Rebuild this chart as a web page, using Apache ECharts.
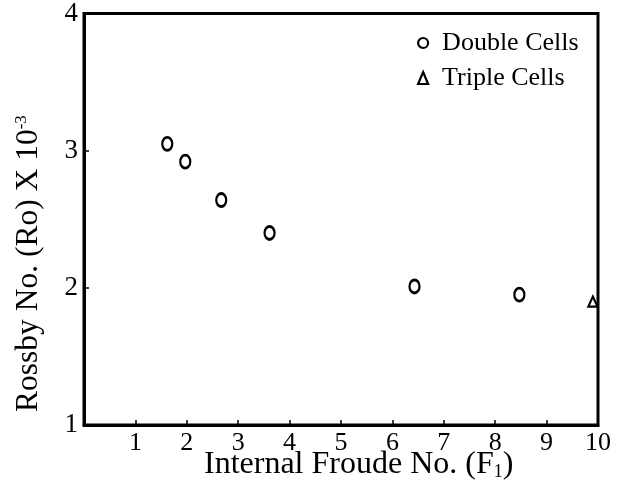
<!DOCTYPE html>
<html>
<head>
<meta charset="utf-8">
<script src="https://cdn.jsdelivr.net/npm/echarts@6/dist/echarts.min.js"></script>
<style>html,body{margin:0;padding:0;background:#fff}#c{width:621px;height:504px}</style>
</head>
<body>
<div id="c"></div>
<script>
const doubleX = [1.62, 1.97, 2.67, 3.61, 6.43, 8.47];
const doubleY = [3.05, 2.92, 2.64, 2.40, 2.01, 1.95];
const tripleX = [9.9];
const tripleY = [1.90];
const xTicks = [1, 2, 3, 4, 5, 6, 7, 8, 9, 10];
const yTicks = [1, 2, 3, 4];
const seriesNames = ['Double Cells', 'Triple Cells'];
const xTitle = 'Internal Froude No. (F{sub|1})';
const yTitle = 'Rossby No. (Ro) X 10{sup|-3}';

const FONT = '"Liberation Serif", "DejaVu Serif", serif';
const chart = echarts.init(document.getElementById('c'), null, {renderer: 'canvas'});
const pair = (xs, ys) => xs.map((x, i) => [x, ys[i]]);

chart.setOption({
  backgroundColor: '#fff',
  animation: false,
  grid: {left: 84, right: 23, top: 13, bottom: 79, show: true, borderColor: '#000', borderWidth: 3},
  xAxis: {
    type: 'value', min: 0, max: 10, interval: 1,
    splitLine: {show: false},
    axisLine: {show: true, lineStyle: {color: '#000', width: 3}},
    axisTick: {show: true, inside: true, length: 5, lineStyle: {color: '#000', width: 1.5}},
    axisLabel: {
      color: '#000', fontFamily: FONT, fontSize: 26, margin: 5,
      formatter: v => xTicks.includes(v) ? String(v) : ''
    }
  },
  yAxis: {
    type: 'value', min: 1, max: 4, interval: 1,
    splitLine: {show: false},
    axisLine: {show: true, lineStyle: {color: '#000', width: 3}},
    axisTick: {show: true, inside: true, length: 5, lineStyle: {color: '#000', width: 1.5}},
    axisLabel: {
      color: '#000', fontFamily: FONT, fontSize: 27, margin: 6,
      formatter: v => yTicks.includes(v) ? String(v) : ''
    }
  },
  legend: {
    orient: 'vertical', left: 412, top: 25, itemGap: 9,
    itemWidth: 10, itemHeight: 12,
    textStyle: {color: '#000', fontFamily: FONT, fontSize: 26, lineHeight: 26, padding: [0, 0, 0, 9]},
    data: [
      {name: seriesNames[0], icon: 'circle', itemStyle: {color: '#fff', borderColor: '#000', borderWidth: 2.2}},
      {name: seriesNames[1], icon: 'triangle', itemStyle: {color: '#fff', borderColor: '#000', borderWidth: 2.2}}
    ]
  },
  series: [
    {
      name: seriesNames[0], type: 'scatter', symbol: 'circle', symbolSize: [10, 13],
      itemStyle: {color: '#fff', borderColor: '#000', borderWidth: 2.5, opacity: 1},
      data: pair(doubleX, doubleY), clip: false
    },
    {
      name: seriesNames[1], type: 'scatter', symbol: 'triangle', symbolSize: [9, 10],
      itemStyle: {color: '#fff', borderColor: '#000', borderWidth: 2.2, opacity: 1},
      data: pair(tripleX, tripleY), clip: false, z: 1
    }
  ],
  graphic: [
    {
      type: 'text', top: 449, left: 204, z: 10,
      style: {
        text: xTitle, fill: '#000', font: '32px ' + FONT,
        rich: {sub: {fontSize: 18, fontFamily: FONT, padding: [15, 0, 0, 0]}}
      }
    },
    {
      type: 'text', rotation: Math.PI / 2, x: 13, y: 412, z: 10,
      style: {
        text: yTitle, fill: '#000', font: '31.5px ' + FONT,
        rich: {sup: {fontSize: 17, fontFamily: FONT, padding: [0, 0, 15, 0]}}
      }
    }
  ]
});
</script>
</body>
</html>
